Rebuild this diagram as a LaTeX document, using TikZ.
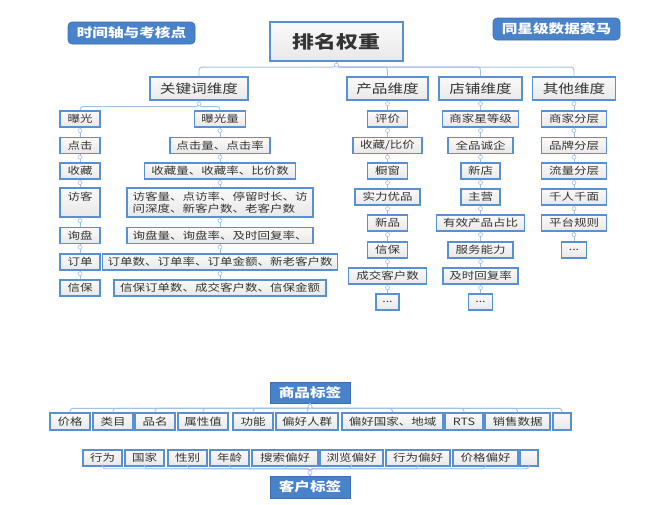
\documentclass[tikz,border=0pt]{standalone}
\usepackage{fontspec}
\newfontfamily\cjk[FakeStretch=1.25]{Noto Sans CJK SC}

\definecolor{boxblue}{RGB}{88,144,212}
\definecolor{linkblue}{RGB}{162,192,230}
\definecolor{tagblue}{RGB}{72,130,203}
\definecolor{textgray}{RGB}{52,52,52}

\tikzset{
  leaf/.style={draw=boxblue, line width=1.3pt, top color=gray!4, bottom color=gray!18,
    text=textgray, font=\cjk\fontsize{10}{12.5}\selectfont, inner sep=0pt, minimum height=16pt},
  dimbox/.style={leaf, font=\cjk\fontsize{12.5}{15}\selectfont, minimum height=23pt},
  rootbox/.style={leaf, line width=2.2pt, font=\cjk\bfseries\fontsize{17.5}{20}\selectfont,
    minimum width=133pt, minimum height=39pt},
  tag/.style={fill=tagblue, draw=tagblue!85!black, line width=0.6pt, text=white,
    font=\cjk\bfseries\fontsize{12.5}{15}\selectfont, inner sep=0pt, minimum height=22pt},
  link/.style={draw=linkblue, line width=0.9pt, rounded corners=3pt},
  knob/.style={circle, draw=linkblue, fill=white, line width=0.6pt, inner sep=0pt, minimum size=4pt}
}

\begin{document}
\begin{tikzpicture}[x=1pt,y=-1pt]
\useasboundingbox (0,0) rectangle (660,504);

% headline labels
\node[tag, rounded corners=4pt, minimum width=127pt] (timeline) at (131.5,33) {时间轴与考核点};
\node[tag, rounded corners=4pt, minimum width=127pt] (race) at (556.5,29) {同星级数据赛马};
\node[rootbox] (root) at (336.5,41.5) {排名权重};

% dimensions
\node[dimbox, minimum width=98pt] (kw) at (199,88.5) {关键词维度};
\node[dimbox, minimum width=81pt] (prod) at (387.5,88.5) {产品维度};
\node[dimbox, minimum width=83pt] (shop) at (480.5,88.5) {店铺维度};
\node[dimbox, minimum width=83pt] (other) at (574,88.5) {其他维度};

\foreach \d in {kw,prod,shop,other}
  \draw[link] (root.south) -- ++(0,5) -| (\d.north);

% keyword: stages
\node[leaf, minimum width=40pt] (k1) at (80,119) {曝光};
\node[leaf, minimum width=40pt] (k2) at (80,145.5) {点击};
\node[leaf, minimum width=40pt] (k3) at (80,171) {收藏};
\node[leaf, minimum width=40pt, minimum height=29pt, align=center] (k4) at (80,202.5) {访客\\\phantom{访}};
\node[leaf, minimum width=40pt] (k5) at (80,235.5) {询盘};
\node[leaf, minimum width=40pt] (k6) at (80,262) {订单};
\node[leaf, minimum width=40pt] (k7) at (80,288) {信保};

% keyword: metrics
\node[leaf, minimum width=51pt] (m1) at (220,119) {曝光量};
\node[leaf, minimum width=100pt] (m2) at (220,145.5) {点击量、点击率};
\node[leaf, minimum width=151pt] (m3) at (220,171) {收藏量、收藏率、比价数};
\node[leaf, minimum width=186pt, minimum height=29pt, align=left] (m4) at (220,202.5) {访客量、点访率、停留时长、访\\问深度、新客户数、老客户数};
\node[leaf, minimum width=186pt] (m5) at (220,235.5) {询盘量、询盘率、及时回复率、};
\node[leaf, minimum width=235pt] (m6) at (220,262) {订单数、订单率、订单金额、新老客户数};
\node[leaf, minimum width=212pt] (m7) at (220,288) {信保订单数、成交客户数、信保金额};

\draw[link] (kw.south) -- ++(0,6) -| (k1.north);
\draw[link] (kw.south) -- ++(0,6) -| (m1.north);

% product
\node[leaf, minimum width=40pt] (p1) at (387.5,119) {评价};
\node[leaf, minimum width=69pt] (p2) at (387.5,145.5) {收藏/比价};
\node[leaf, minimum width=40pt] (p3) at (387.5,171) {橱窗};
\node[leaf, minimum width=65pt] (p4) at (387.5,197) {实力优品};
\node[leaf, minimum width=40pt] (p5) at (387.5,223) {新品};
\node[leaf, minimum width=40pt] (p6) at (387.5,250) {信保};
\node[leaf, minimum width=78pt] (p7) at (387.5,276) {成交客户数};
\node[leaf, minimum width=23pt] (p8) at (387.5,302) {...};

% shop
\node[leaf, minimum width=76pt] (s1) at (480.5,119) {商家星等级};
\node[leaf, minimum width=65pt] (s2) at (480.5,145.5) {全品诚企};
\node[leaf, minimum width=39pt] (s3) at (480.5,171) {新店};
\node[leaf, minimum width=39pt] (s4) at (480.5,197) {主营};
\node[leaf, minimum width=88pt] (s5) at (480.5,223) {有效产品占比};
\node[leaf, minimum width=65pt] (s6) at (480.5,250) {服务能力};
\node[leaf, minimum width=75pt] (s7) at (480.5,276) {及时回复率};
\node[leaf, minimum width=24pt] (s8) at (480.5,302) {...};

% other
\node[leaf, minimum width=65pt] (o1) at (574,119) {商家分层};
\node[leaf, minimum width=65pt] (o2) at (574,145.5) {品牌分层};
\node[leaf, minimum width=65pt] (o3) at (574,171) {流量分层};
\node[leaf, minimum width=65pt] (o4) at (574,197) {千人千面};
\node[leaf, minimum width=65pt] (o5) at (574,223) {平台规则};
\node[leaf, minimum width=25pt] (o6) at (574,250) {...};

\draw[link] (prod.south) -- (p1.north);
\draw[link] (shop.south) -- (s1.north);
\draw[link] (other.south) -- (o1.north);

\foreach \a/\b in {k1/k2,k2/k3,k3/k4,k4/k5,k5/k6,k6/k7,
                   m1/m2,m2/m3,m3/m4,m4/m5,m5/m6,m6/m7,
                   p1/p2,p2/p3,p3/p4,p4/p5,p5/p6,p6/p7,p7/p8,
                   s1/s2,s2/s3,s3/s4,s4/s5,s5/s6,s6/s7,s7/s8,
                   o1/o2,o2/o3,o3/o4,o4/o5,o5/o6}
  \draw[link] (\a.south) -- (\b.north);

\foreach \a in {root,kw,prod,shop,other,k1,k2,k3,k4,k5,k6,m1,m2,m3,m4,m5,m6,
                p1,p2,p3,p4,p5,p6,p7,s1,s2,s3,s4,s5,s6,s7,o1,o2,o3,o4,o5}
  \node[knob] at ([yshift=-3pt]\a.south) {};

% goods tags
\node[tag, minimum width=80pt, minimum height=21pt] (goods) at (310,392.5) {商品标签};
\node[leaf, minimum width=40pt, minimum height=17pt] (a1) at (70,421.5) {价格};
\node[leaf, minimum width=40pt, minimum height=17pt] (a2) at (113,421.5) {类目};
\node[leaf, minimum width=40pt, minimum height=17pt] (a3) at (155,421.5) {品名};
\node[leaf, minimum width=50pt, minimum height=17pt] (a4) at (203,421.5) {属性值};
\node[leaf, minimum width=40pt, minimum height=17pt] (a5) at (253,421.5) {功能};
\node[leaf, minimum width=62pt, minimum height=17pt] (a6) at (307,421.5) {偏好人群};
\node[leaf, minimum width=101pt, minimum height=17pt] (a7) at (392.5,421.5) {偏好国家、地域};
\node[leaf, minimum width=38pt, minimum height=17pt] (a8) at (464,421.5) {RTS};
\node[leaf, minimum width=65pt, minimum height=17pt] (a9) at (517.5,421.5) {销售数据};
\node[leaf, minimum width=18pt, minimum height=17pt] (a10) at (562,421.5) {};

\foreach \c in {a1,a2,a3,a4,a5,a6,a7,a8,a9,a10}
  \draw[link] (goods.south) -- ++(0,5) -| (\c.north);
\node[knob] at ([yshift=-3pt]goods.south) {};

% customer tags
\node[tag, minimum width=80pt, minimum height=22pt] (buyer) at (310,487) {客户标签};
\node[leaf, minimum width=39pt] (b1) at (102.5,458) {行为};
\node[leaf, minimum width=39pt] (b2) at (144.5,458) {国家};
\node[leaf, minimum width=39pt] (b3) at (187.5,458) {性别};
\node[leaf, minimum width=39pt] (b4) at (229.5,458) {年龄};
\node[leaf, minimum width=66pt] (b5) at (285,458) {搜索偏好};
\node[leaf, minimum width=63pt] (b6) at (351.5,458) {浏览偏好};
\node[leaf, minimum width=64pt] (b7) at (418,458) {行为偏好};
\node[leaf, minimum width=65pt] (b8) at (485.5,458) {价格偏好};
\node[leaf, minimum width=18pt] (b9) at (529,458) {};

\foreach \c in {b1,b2,b3,b4,b5,b6,b7,b8,b9}
  \draw[link] (buyer.north) -- ++(0,-7) -| (\c.south);
\node[knob] at ([yshift=3pt]buyer.north) {};

\end{tikzpicture}
\end{document}
